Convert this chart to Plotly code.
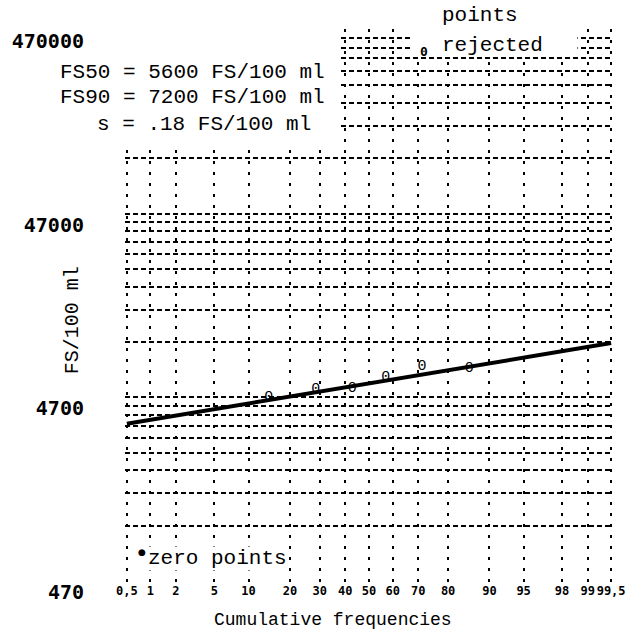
import math
from statistics import NormalDist
import plotly.graph_objects as go

# Cumulative frequency grid (percent) and its labels
prob_ticks = [0.5, 1, 2, 5, 10, 20, 30, 40, 50, 60, 70, 80, 90, 95, 98, 99, 99.5]
prob_labels = ["0,5", "1", "2", "5", "10", "20", "30", "40", "50", "60",
               "70", "80", "90", "95", "98", "99", "99,5"]

# Concentration decades (FS/100 ml) and their labels
decade_ticks = [470, 4700, 47000, 470000]
decade_labels = ["470", "4700", "47000", "470000"]

# Samples: plotting position (%) and faecal streptococci count
sample_freq = [14.3, 28.6, 42.9, 57.1, 71.4, 85.7]
sample_count = [4720, 5210, 5290, 6080, 6950, 6780]

# Fitted log-normal distribution
fs50 = 5600
fs90 = 7200
s_value = 0.18

nd = NormalDist()


def probit(p):
    return nd.inv_cdf(p / 100.0)


# figure geometry
W, H = 638, 644
L, R, T, B = 120, 24, 29, 62
PW, PH = W - L - R, H - T - B


def px(x):
    return (x - L) / PW


def py(y):
    return (H - B - y) / PH


z_lo, z_hi = probit(prob_ticks[0]), probit(prob_ticks[-1])

# fitted line through FS50 (z = 0) and FS90 (z = z90)
z90 = probit(90)
slope = (math.log10(fs90) - math.log10(fs50)) / z90
line_z = [z_lo, z_hi]
line_y = [10 ** (math.log10(fs50) + slope * z) for z in line_z]

# horizontal grid: every multiple of the base value within each decade
grid_vals, grid_text = [], []
for i, d in enumerate(decade_ticks[:-1]):
    for k in range(1, 10):
        grid_vals.append(d * k)
        grid_text.append(f"<b>{decade_labels[i]}</b>" if k == 1 else "")
grid_vals.append(decade_ticks[-1])
grid_text.append(f"<b>{decade_labels[-1]}</b>")

fig = go.Figure()

fig.add_trace(go.Scatter(
    x=line_z, y=line_y, mode="lines",
    line=dict(color="black", width=4),
    hoverinfo="skip", showlegend=False,
))

fig.add_trace(go.Scatter(
    x=[probit(p) for p in sample_freq], y=sample_count, mode="text",
    text=["0"] * len(sample_freq), textposition="middle center",
    textfont=dict(family="Liberation Mono", size=15, color="#000000"),
    showlegend=False,
))

mono = "Liberation Mono"
pad_z = 0.02
pad_l = 0.005

fig.update_layout(
    width=W, height=H,
    margin=dict(l=L, r=R, t=T, b=B),
    paper_bgcolor="white", plot_bgcolor="white",
    xaxis=dict(
        range=[z_lo - pad_z, z_hi + pad_z],
        tickvals=[probit(p) for p in prob_ticks],
        ticktext=[f"<b>{t}</b>" for t in prob_labels],
        tickangle=0,
        tickfont=dict(family="DejaVu Sans Mono", size=12, color="black"),
        showgrid=True, gridcolor="black", gridwidth=1.6, griddash="3px,8px",
        zeroline=False, showline=False, ticks="",
    ),
    yaxis=dict(
        type="log",
        range=[math.log10(decade_ticks[0]) - pad_l, math.log10(decade_ticks[-1]) + pad_l],
        tickvals=grid_vals, ticktext=grid_text,
        tickfont=dict(family="DejaVu Sans Mono", size=20, color="black"),
        ticklabelshift=11,
        showgrid=True, gridcolor="black", gridwidth=1.6, griddash="5px,3px",
        zeroline=False, showline=False,
        ticks="outside", ticklen=36, tickcolor="rgba(0,0,0,0)",
    ),
)

# blank panels behind the statistics block and the rejected-points key
fig.add_shape(type="rect", xref="paper", yref="paper",
              x0=-0.01, x1=px(337), y0=py(142), y1=1.03,
              fillcolor="white", line=dict(width=0), layer="above")
fig.add_shape(type="rect", xref="paper", yref="paper",
              x0=px(410), x1=px(578), y0=py(54), y1=1.03,
              fillcolor="white", line=dict(width=0), layer="above")

txt = dict(family=mono, size=21, color="black")
ann = [
    dict(x=px(53), y=py(72), text=f"FS50 = {fs50} FS/100 ml"),
    dict(x=px(53), y=py(98), text=f"FS90 = {fs90} FS/100 ml"),
    dict(x=px(91), y=py(125), text=f"s = {str(s_value).lstrip('0')} FS/100 ml"),
    dict(x=px(440), y=py(15), text="points"),
    dict(x=px(440), y=py(45), text="rejected"),
    dict(x=px(142), y=py(558), text="zero points", bgcolor="white"),
]
for a in ann:
    fig.add_annotation(xref="paper", yref="paper", xanchor="left", yanchor="middle",
                       showarrow=False, font=txt, borderpad=0, **a)

# key symbols
fig.add_annotation(xref="paper", yref="paper", x=px(423), y=py(42), text="<b>0</b>",
                   showarrow=False, font=dict(family="DejaVu Sans Mono", size=13, color="black"))
fig.add_annotation(xref="paper", yref="paper", x=px(131), y=py(559), text="\u25cf",
                   showarrow=False, font=dict(family="DejaVu Sans", size=9, color="black"))

# axis titles
fig.add_annotation(xref="paper", yref="paper", x=px(331), y=py(632),
                   text="Cumulative frequencies", showarrow=False,
                   font=dict(family=mono, size=18, color="black"))
fig.add_annotation(xref="paper", yref="paper", x=px(53), y=py(320),
                   text="FS/100 ml", textangle=-90, showarrow=False,
                   font=dict(family=mono, size=20, color="black"))

fig.write_html("out.html")
